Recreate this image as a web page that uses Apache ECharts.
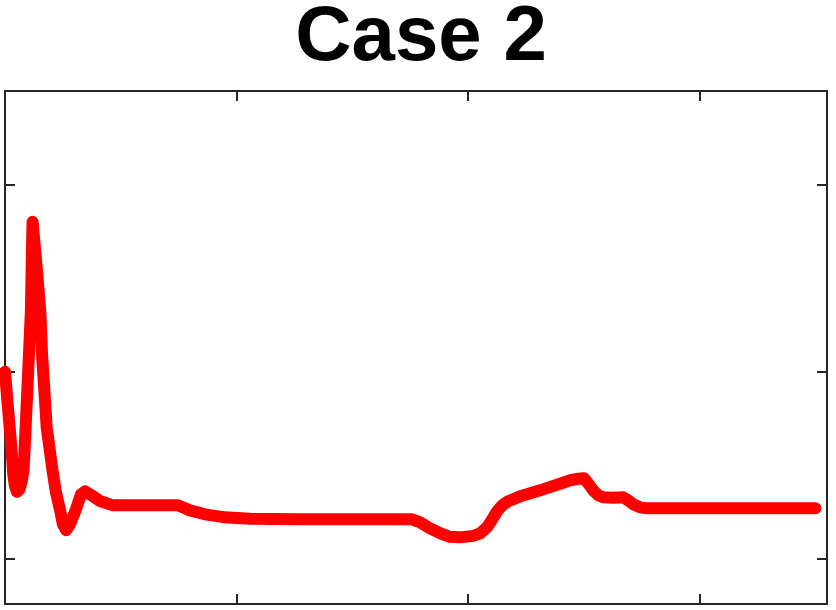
<!DOCTYPE html>
<html>
<head>
<meta charset="utf-8">
<script src="https://cdn.jsdelivr.net/npm/echarts@6/dist/echarts.min.js"></script>
<style>
  html, body { margin: 0; padding: 0; background: #fff; }
  #chart { width: 836px; height: 610px; }
</style>
</head>
<body>
<div id="chart"></div>
<script>
// 数据：从图上读出来的近似值
var tValues = [0, 0.13, 0.26, 0.36, 0.43, 0.52, 0.63, 0.73, 0.8, 0.86, 0.99, 1.12, 1.16, 1.19,
  1.36, 1.53, 1.6, 1.71, 1.8, 2.05, 2.2, 2.38, 2.5, 2.64, 2.76, 2.89, 3.05, 3.28, 3.46, 3.67, 4.1, 4.67,
  7.47, 7.99, 8.64, 9.5, 10.58, 12.74, 17.58, 17.93, 18.36, 18.79, 19.22, 19.65, 20.22, 20.52, 20.82,
  21.04, 21.25, 21.47, 21.73, 22.25, 23.11, 23.97, 24.41, 24.75, 25.01, 25.18, 25.4, 25.62, 25.83,
  26.26, 26.7, 26.91, 27.13, 27.43, 27.73, 28.29, 35.0];
var yValues = [0, -0.194, -0.381, -0.552, -0.611, -0.641, -0.627, -0.579, -0.526, -0.381, -0.028, 0.33,
  0.624, 0.801,
  0.571, 0.314, 0.09, -0.119, -0.296, -0.526, -0.644, -0.74, -0.814, -0.846, -0.825, -0.788, -0.74,
  -0.654, -0.638, -0.654, -0.69, -0.713,
  -0.713, -0.74, -0.761, -0.777, -0.785, -0.788, -0.788, -0.804, -0.836, -0.862, -0.881, -0.884,
  -0.876, -0.863, -0.83, -0.788, -0.745, -0.713, -0.691, -0.665, -0.633, -0.598, -0.579, -0.571,
  -0.568, -0.595, -0.633, -0.659, -0.67, -0.672, -0.67, -0.686, -0.707, -0.724, -0.729, -0.729, -0.729];
var xTicks = [10, 20, 30];
var yTicks = [-1, 0, 1];

var points = [];
for (var i = 0; i < tValues.length; i++) {
    points.push([tValues[i], yValues[i]]);
}

var axisColor = '#262626';

function makeX(pos) {
    return {
        type: 'value', position: pos, min: 0, max: 35.5,
        axisLine: { show: true, onZero: false, lineStyle: { color: axisColor, width: 2 } },
        axisTick: { show: true, inside: true, length: 10, customValues: xTicks,
            lineStyle: { color: axisColor, width: 2 } },
        axisLabel: { show: false },
        splitLine: { show: false }
    };
}
function makeY(pos) {
    return {
        type: 'value', position: pos, min: -1.24, max: 1.5,
        axisLine: { show: true, onZero: false, lineStyle: { color: axisColor, width: 2 } },
        axisTick: { show: true, inside: true, length: 10, customValues: yTicks,
            lineStyle: { color: axisColor, width: 2 } },
        axisLabel: { show: false },
        splitLine: { show: false }
    };
}

var myChart = echarts.init(document.getElementById('chart'));
myChart.setOption({
    animation: false,
    title: {
        text: 'Case 2',
        left: 416,
        top: -6,
        textAlign: 'center',
        textStyle: { fontFamily: 'Liberation Sans', fontSize: 78, fontWeight: 'bold', color: '#000' }
    },
    grid: { left: 5, right: 9, top: 91, bottom: 6 },
    xAxis: [makeX('bottom'), makeX('top')],
    yAxis: [makeY('left'), makeY('right')],
    series: [{
        type: 'line',
        data: points,
        showSymbol: false,
        smooth: false,
        clip: false,
        lineStyle: { color: '#ff0000', width: 12, cap: 'round', join: 'round' }
    }]
});
</script>
</body>
</html>
